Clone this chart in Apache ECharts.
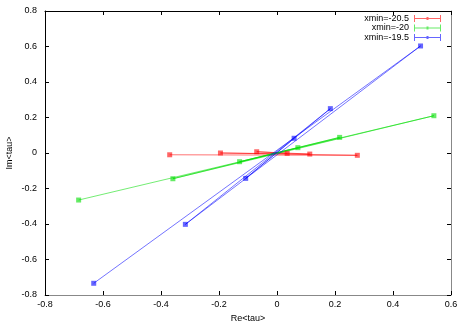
<!DOCTYPE html>
<html>
<head>
<meta charset="utf-8">
<script src="https://cdn.jsdelivr.net/npm/echarts@6/dist/echarts.min.js"></script>
<style>
  html, body { margin: 0; padding: 0; background: #fff; }
  #chart { width: 460px; height: 322px; }
</style>
</head>
<body>
<div id="chart"></div>
<script>
// values, in the order the lines join them
const seriesNames = ['xmin=-20.5', 'xmin=-20', 'xmin=-19.5']
const reA = [0.035, -0.07, 0.113, -0.195, 0.277, -0.37]
const imA = [-0.002, 0.007, -0.006, 0.0, -0.013, -0.01]
const reB = [0.072, -0.129, 0.216, -0.359, 0.541, -0.684]
const imB = [0.03, -0.049, 0.088, -0.145, 0.21, -0.265]
const reC = [0.059, -0.108, 0.184, -0.316, 0.495, -0.632]
const imC = [0.083, -0.143, 0.25, -0.402, 0.603, -0.734]
const xTicks = [-0.8, -0.6, -0.4, -0.2, 0, 0.2, 0.4, 0.6]
const yTicks = [-0.8, -0.6, -0.4, -0.2, 0, 0.2, 0.4, 0.6, 0.8]

const colors = ['#ff0000', '#00dd00', '#0000ff']
const font = 'Liberation Sans'

const zip = (re, im) => re.map((v, i) => [v, im[i]])
const dataSets = [zip(reA, imA), zip(reB, imB), zip(reC, imC)]

const fmt = v => (v === 0 ? '0' : String(Math.round(v * 10) / 10))

const chart = echarts.init(document.getElementById('chart'))

const baseAxis = {
  type: 'value',
  splitLine: { show: false },
  axisTick: { show: true, inside: true, length: 4, lineStyle: { color: '#000' } }
}

chart.setOption({
  animation: false,
  backgroundColor: '#fff',
  textStyle: { fontFamily: font },
  grid: { left: 45, right: 9, top: 11, bottom: 27, outerBoundsMode: 'none' },
  legend: {
    right: 19,
    top: 14,
    orient: 'vertical',
    align: 'right',
    padding: 0,
    itemWidth: 27,
    itemHeight: 7,
    itemGap: 0.5,
    textStyle: { fontFamily: font, fontSize: 9, color: '#000', lineHeight: 8 },
    data: seriesNames.map((n, i) => ({
      name: n,
      icon: 'path://M0,3h27v1h-27zM0,0h1v7h-1zM26,0h1v7h-1zM12.5,2h2v3h-2z',
      itemStyle: { color: colors[i], opacity: 0.6 }
    }))
  },
  xAxis: [
    Object.assign({}, baseAxis, {
      position: 'bottom',
      min: -0.8, max: 0.6, interval: 0.2,
      name: 'Re<tau>',
      nameLocation: 'middle',
      nameGap: 16,
      nameTextStyle: { fontFamily: font, fontSize: 9, color: '#000' },
      axisLine: { onZero: false, lineStyle: { color: '#888' } },
      axisLabel: { fontFamily: font, fontSize: 9, color: '#000', margin: 5, formatter: fmt }
    }),
    Object.assign({}, baseAxis, {
      position: 'top',
      min: -0.8, max: 0.6, interval: 0.2,
      axisLine: { onZero: false, lineStyle: { color: '#000' } },
      axisLabel: { show: false }
    })
  ],
  yAxis: [
    Object.assign({}, baseAxis, {
      position: 'left',
      min: -0.8, max: 0.8, interval: 0.2,
      name: 'Im<tau>',
      nameLocation: 'middle',
      nameGap: 31,
      nameMoveOverlap: false,
      nameTextStyle: { fontFamily: font, fontSize: 9, color: '#000' },
      axisLine: { onZero: false, show: true, lineStyle: { color: '#000' } },
      axisLabel: { fontFamily: font, fontSize: 9, color: '#000', margin: 8, formatter: fmt }
    }),
    Object.assign({}, baseAxis, {
      position: 'right',
      min: -0.8, max: 0.8, interval: 0.2,
      axisLine: { onZero: false, show: true, lineStyle: { color: '#888' } },
      axisLabel: { show: false }
    })
  ],
  series: dataSets.map((d, i) => ({
    name: seriesNames[i],
    type: 'line',
    data: d,
    symbol: 'rect',
    symbolSize: 5,
    showAllSymbol: true,
    itemStyle: { color: colors[i], opacity: 0.6 },
    lineStyle: { color: colors[i], width: 1, opacity: 0.55 }
  }))
})
</script>
</body>
</html>
